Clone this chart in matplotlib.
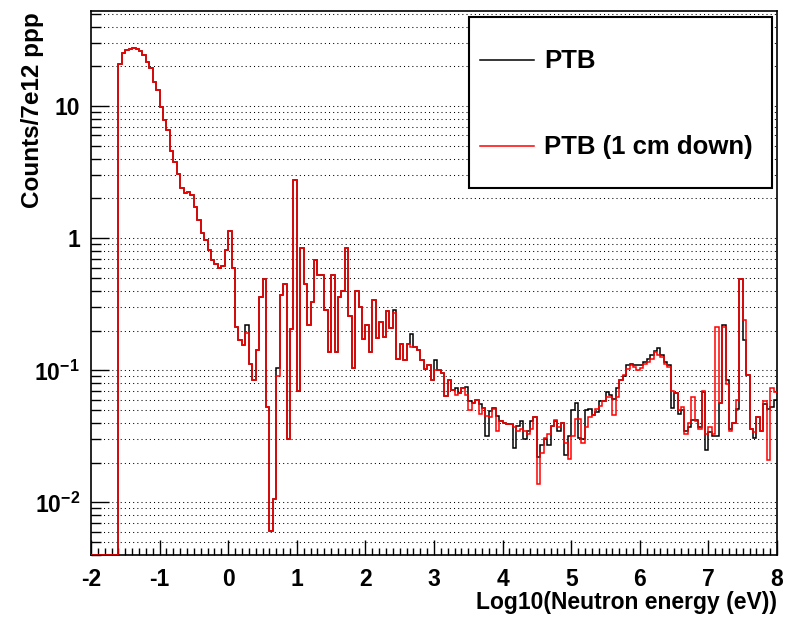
import numpy as np
import matplotlib
matplotlib.use("Agg")
import matplotlib.pyplot as plt
from matplotlib.ticker import LogLocator, MultipleLocator, NullFormatter, FuncFormatter
from matplotlib.patches import Rectangle
from matplotlib.lines import Line2D

FONT = ["Liberation Sans", "DejaVu Sans"]
plt.rcParams["font.family"] = FONT
plt.rcParams["font.weight"] = "bold"
plt.rcParams["mathtext.fontset"] = "custom"
plt.rcParams["mathtext.bf"] = "Liberation Sans:bold"
plt.rcParams["mathtext.rm"] = "Liberation Sans:bold"
plt.rcParams["mathtext.default"] = "bf"

# log10(E/eV) binning: 200 bins from -2 to 8
x_min, x_max, n_bins = -2.0, 8.0, 200

# Counts per 7e12 protons, one value per bin
ptb = [
    0, 0, 0, 0, 0, 0, 0, 0, 21, 25.4,
    26.6, 27.2, 27.7, 27.3, 26.3, 24.3, 21.7, 19.6, 15.3, 13.2,
    9.9, 7.8, 6.6, 4.6, 3.8, 3.09, 2.38, 2.2, 2.25, 2.12,
    1.73, 1.37, 1.1, 0.97, 0.81, 0.68, 0.64, 0.60, 0.62, 0.82,
    1.13, 0.60, 0.213, 0.169, 0.155, 0.22, 0.112, 0.084, 0.142, 0.36,
    0.49, 0.053, 0.0061, 0.0107, 0.105, 0.37, 0.45, 0.030, 0.207, 2.78,
    0.07, 0.84, 0.45, 0.22, 0.33, 0.68, 0.525, 0.525, 0.285, 0.137,
    0.525, 0.137, 0.36, 0.40, 0.84, 0.26, 0.104, 0.40, 0.30, 0.174,
    0.22, 0.137, 0.34, 0.176, 0.232, 0.179, 0.28, 0.21, 0.285, 0.122,
    0.159, 0.12, 0.159, 0.19, 0.15, 0.142, 0.12, 0.103, 0.109, 0.084,
    0.12, 0.10, 0.095, 0.064, 0.084, 0.071, 0.073, 0.067, 0.073, 0.075,
    0.059, 0.057, 0.06, 0.056, 0.052, 0.032, 0.049, 0.052, 0.045, 0.041,
    0.040, 0.039, 0.039, 0.026, 0.038, 0.041, 0.030, 0.0345, 0.041, 0.044,
    0.022, 0.027, 0.030, 0.027, 0.038, 0.041, 0.035, 0.040, 0.0227, 0.032,
    0.05, 0.057, 0.031, 0.030, 0.050, 0.051, 0.046, 0.048, 0.059, 0.059,
    0.0685, 0.065, 0.061, 0.073, 0.084, 0.090, 0.109, 0.112, 0.109, 0.109,
    0.109, 0.116, 0.121, 0.13, 0.14, 0.148, 0.13, 0.115, 0.11, 0.052,
    0.067, 0.047, 0.05, 0.035, 0.037, 0.042, 0.042, 0.037, 0.069, 0.025,
    0.034, 0.032, 0.032, 0.057, 0.22, 0.084, 0.036, 0.040, 0.051, 0.495,
    0.17, 0.092, 0.036, 0.031, 0.044, 0.035, 0.056, 0.051, 0.053, 0.06,
]

ptb_1cm_down = [
    0, 0, 0, 0, 0, 0, 0, 0, 21, 25.4,
    26.6, 27.2, 27.7, 27.3, 26.3, 24.3, 21.7, 19.6, 15.3, 13.2,
    9.9, 7.8, 6.6, 4.6, 3.8, 3.09, 2.38, 2.2, 2.25, 2.12,
    1.73, 1.37, 1.1, 0.97, 0.81, 0.68, 0.64, 0.60, 0.62, 0.82,
    1.13, 0.60, 0.213, 0.169, 0.155, 0.192, 0.112, 0.084, 0.142, 0.36,
    0.49, 0.053, 0.0061, 0.0107, 0.09, 0.37, 0.45, 0.030, 0.207, 2.78,
    0.07, 0.84, 0.45, 0.22, 0.33, 0.68, 0.525, 0.525, 0.285, 0.137,
    0.525, 0.137, 0.36, 0.40, 0.84, 0.26, 0.104, 0.40, 0.30, 0.174,
    0.22, 0.137, 0.34, 0.176, 0.232, 0.179, 0.28, 0.21, 0.27, 0.122,
    0.159, 0.12, 0.159, 0.15, 0.15, 0.142, 0.12, 0.103, 0.109, 0.084,
    0.10, 0.10, 0.095, 0.064, 0.084, 0.071, 0.065, 0.067, 0.073, 0.065,
    0.050, 0.057, 0.06, 0.047, 0.052, 0.045, 0.044, 0.051, 0.035, 0.041,
    0.040, 0.039, 0.039, 0.037, 0.035, 0.036, 0.035, 0.033, 0.036, 0.044,
    0.0139, 0.0235, 0.031, 0.033, 0.038, 0.042, 0.037, 0.040, 0.028, 0.0215,
    0.032, 0.043, 0.043, 0.028, 0.037, 0.044, 0.046, 0.051, 0.054, 0.059,
    0.063, 0.063, 0.046, 0.063, 0.084, 0.092, 0.103, 0.109, 0.106, 0.100,
    0.104, 0.112, 0.116, 0.122, 0.138, 0.13, 0.127, 0.112, 0.106, 0.07,
    0.067, 0.05, 0.053, 0.033, 0.040, 0.063, 0.041, 0.036, 0.070, 0.033,
    0.037, 0.033, 0.212, 0.057, 0.212, 0.079, 0.035, 0.040, 0.06, 0.495,
    0.239, 0.092, 0.036, 0.034, 0.044, 0.035, 0.059, 0.021, 0.073, 0.069,
]

series_labels = ["PTB", "PTB (1 cm down)"]
series_colors = ["black", "red"]

y_min, y_max = 0.004, 52.5
edges = np.linspace(x_min, x_max, n_bins + 1)

W, H = 787, 617
fig = plt.figure(figsize=(W / 100, H / 100), dpi=100)
ax = fig.add_axes([91 / W, 1 - 555 / H, 686 / W, 544 / H])

for vals, col in zip([ptb, ptb_1cm_down], series_colors):
    v = np.asarray(vals, dtype=float)
    v = np.where(v > 0, v, y_min)   # empty bins sit on the frame floor
    ax.stairs(v, edges, baseline=None, color=col, lw=1.1, zorder=3)

ax.set_xlim(x_min, x_max)
ax.set_yscale("log")
ax.set_ylim(y_min, y_max)

def ylab(v, pos):
    e = int(round(np.log10(v)))
    if e == 1:
        return "10"
    if e == 0:
        return "1"
    return r"$\mathbf{10^{%d}}$" % e

ax.yaxis.set_major_locator(LogLocator(base=10))
ax.yaxis.set_minor_locator(LogLocator(base=10, subs=np.arange(2, 10)))
ax.yaxis.set_major_formatter(FuncFormatter(ylab))
ax.yaxis.set_minor_formatter(NullFormatter())
ax.xaxis.set_major_locator(MultipleLocator(1))
ax.xaxis.set_minor_locator(MultipleLocator(0.1))
ax.xaxis.set_major_formatter(FuncFormatter(lambda v, p: "%d" % round(v)))

ax.tick_params(axis="both", which="both", direction="in", top=False, right=False,
               colors="black", width=1.0)
ax.tick_params(axis="y", which="major", length=13, pad=8, labelsize=16.5)
ax.tick_params(axis="y", which="minor", length=7)
ax.tick_params(axis="x", which="major", length=11, pad=9, labelsize=16.5)
ax.tick_params(axis="x", which="minor", length=5)

ax.yaxis.grid(True, which="both", linestyle=(0, (1, 3)), color="black", lw=0.75)
ax.xaxis.grid(False)
ax.set_axisbelow(True)
for s in ax.spines.values():
    s.set_linewidth(1.2)

fig.text(33 / W, 1 - 12 / H, "Counts/7e12 ppp", rotation=90, ha="center", va="top",
         fontsize=17.5, fontweight="bold")
fig.text(777 / W, 1 - 603 / H, "Log10(Neutron energy (eV))", ha="right", va="center",
         fontsize=16.5, fontweight="bold")

# legend box
box = Rectangle((469 / W, 1 - 188 / H), (772 - 469) / W, (188 - 17) / H,
                transform=fig.transFigure, facecolor="white", edgecolor="black",
                lw=1.5, zorder=10)
fig.add_artist(box)
for lab, col, yy in zip(series_labels, series_colors, [60, 146]):
    fig.add_artist(Line2D([480 / W, 534 / W], [1 - yy / H, 1 - yy / H],
                          transform=fig.transFigure, color=col, lw=1.1, zorder=11))
    fig.text(544 / W, 1 - (yy + 1) / H, lab, ha="left", va="center", fontsize=18.5,
             fontweight="bold", zorder=12)

fig.savefig("out.png", dpi=100)
